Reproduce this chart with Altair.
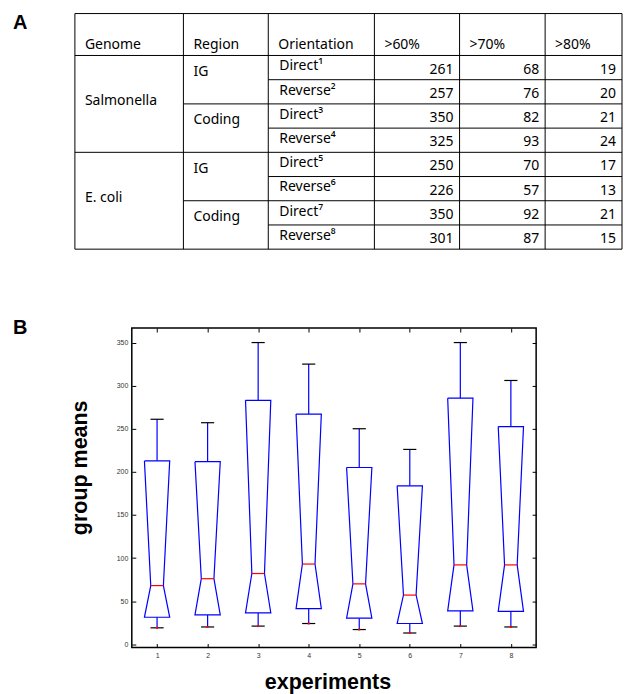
import altair as alt
import pandas as pd

# ---------------- data ----------------
genomes = ["Salmonella", "E. coli"]
regions = ["IG", "Coding"]
orientations = ["Direct", "Reverse"]
superscripts = ["¹", "²", "³", "⁴", "⁵", "⁶", "⁷", "⁸"]
headers = ["Genome", "Region", "Orientation", ">60%", ">70%", ">80%"]
pct60 = [261, 257, 350, 325, 250, 226, 350, 301]
pct70 = [68, 76, 82, 93, 70, 57, 92, 87]
pct80 = [19, 20, 21, 24, 17, 13, 21, 15]

experiments = [1, 2, 3, 4, 5, 6, 7, 8]
group_high = [261, 257, 350, 325, 250, 226, 350, 306]
group_mid = [68, 76, 82, 93, 70, 57, 92, 92]
group_low = [19, 20, 21, 24, 17, 13, 21, 20]
y_ticks = [0, 50, 100, 150, 200, 250, 300, 350]

# ---------------- layout constants ----------------
COL = [0, 108.7, 193.7, 300, 385.3, 471, 548]   # table column edges (px from table left)
HEAD = 1.732                                     # header height in row units
TABLE_W, TABLE_H = 491, 236
PLOT_W, PLOT_H = 405, 320
BOX_HW, NOTCH_HW, CAP_HW = 0.25, 0.125, 0.13
TXT_FONT = "Noto Sans"
AX_FONT = "Liberation Sans"
TITLE_SIZE = 21.5

# ---------------- table (panel A) ----------------
xs_t = alt.Scale(domain=[57, 548], nice=False, zero=False)
ys_t = alt.Scale(domain=[8, -HEAD], nice=False, zero=False)

h_rules = []
for r in [-HEAD, 0, 4, 8]:
    h_rules.append({"x": COL[0], "x2": COL[-1], "row": r})
for r in [2, 6]:
    h_rules.append({"x": COL[1], "x2": COL[-1], "row": r})
for r in [1, 3, 5, 7]:
    h_rules.append({"x": COL[2], "x2": COL[-1], "row": r})
h_df = pd.DataFrame(h_rules)
v_df = pd.DataFrame({"x": COL, "row": [-HEAD] * len(COL), "row2": [8] * len(COL)})

left_txt = []
for c, h in enumerate(headers):
    left_txt.append({"x": COL[c] + 10, "row": -0.45, "t": h})
for g, name in enumerate(genomes):
    left_txt.append({"x": COL[0] + 10, "row": 4 * g + 2 - 0.12, "t": name})
for k in range(4):
    left_txt.append({"x": COL[1] + 10, "row": 2 * k + 0.68, "t": regions[k % 2]})
for r in range(8):
    left_txt.append({"x": COL[2] + 11, "row": r + 0.45,
                     "t": orientations[r % 2] + superscripts[r]})
left_df = pd.DataFrame(left_txt)

right_txt = []
for r in range(8):
    for c, vals in enumerate([pct60, pct70, pct80]):
        right_txt.append({"x": COL[4 + c] - 6, "row": r + 0.58, "t": str(vals[r])})
right_df = pd.DataFrame(right_txt)

hr = alt.Chart(h_df).mark_rule(color="black", strokeWidth=1).encode(
    x=alt.X("x:Q", scale=xs_t, axis=None), x2="x2:Q",
    y=alt.Y("row:Q", scale=ys_t, axis=None))
vr = alt.Chart(v_df).mark_rule(color="black", strokeWidth=1).encode(
    x=alt.X("x:Q", scale=xs_t, axis=None),
    y=alt.Y("row:Q", scale=ys_t, axis=None), y2="row2:Q")
lt = alt.Chart(left_df).mark_text(font=TXT_FONT, fontSize=14, align="left",
                                  baseline="middle", color="black").encode(
    x=alt.X("x:Q", scale=xs_t, axis=None),
    y=alt.Y("row:Q", scale=ys_t, axis=None), text="t:N")
rt = alt.Chart(right_df).mark_text(font=TXT_FONT, fontSize=14, align="right",
                                   baseline="middle", color="black").encode(
    x=alt.X("x:Q", scale=xs_t, axis=None),
    y=alt.Y("row:Q", scale=ys_t, axis=None), text="t:N")
label_a = alt.Chart(pd.DataFrame({"t": ["A"]})).mark_text(
    font=AX_FONT, fontSize=20, fontWeight="bold", align="left",
    baseline="alphabetic", color="black").encode(
    x=alt.value(-119), y=alt.value(15.3), text="t:N")

table_chart = alt.layer(hr, vr, lt, rt, label_a).properties(width=TABLE_W, height=TABLE_H)

# ---------------- box plot (panel B) ----------------
rows = []
poly = []
for e, lo, md, hi in zip(experiments, group_low, group_mid, group_high):
    q1 = lo + 0.25 * (md - lo)
    q3 = md + 0.75 * (hi - md)
    rows.append({"exp": e, "lo": lo, "med": md, "hi": hi, "q1": q1, "q3": q3,
                 "cl": e - CAP_HW, "cr": e + CAP_HW,
                 "nl": e - NOTCH_HW, "nr": e + NOTCH_HW})
    pts = [(e - BOX_HW, q3), (e + BOX_HW, q3), (e + NOTCH_HW, md), (e + BOX_HW, q1),
           (e - BOX_HW, q1), (e - NOTCH_HW, md), (e - BOX_HW, q3)]
    for k, (px, py) in enumerate(pts):
        poly.append({"exp": e, "k": k, "px": px, "py": py})
stats = pd.DataFrame(rows)
poly_df = pd.DataFrame(poly)

xs = alt.Scale(domain=[0.5, 8.5], nice=False, zero=False)
ys = alt.Scale(domain=[-3.85, 366.85], nice=False, zero=False)

common_ax = dict(offset=-4, tickSize=4, tickColor="black", tickWidth=1, domain=False,
                 grid=False, labelFont=AX_FONT, labelFontSize=7, labelColor="#333333")
bottom_axis = alt.Axis(orient="bottom", values=experiments, format="d", labelPadding=4,
                       title="experiments", titleFont=AX_FONT, titleFontSize=TITLE_SIZE,
                       titleFontWeight="bold", titleColor="black", titleX=196, titleY=39.5,
                       titleAlign="center", titleBaseline="middle", **common_ax)
left_axis = alt.Axis(orient="left", values=y_ticks, format="d", labelPadding=4,
                     title="group means", titleFont=AX_FONT, titleFontSize=TITLE_SIZE,
                     titleFontWeight="bold", titleColor="black", titleAngle=270,
                     titleX=-55.5, titleY=139.5, titleAlign="center",
                     titleBaseline="middle", **common_ax)
top_axis = alt.Axis(orient="top", values=experiments, labels=False, title="", **common_ax)
right_axis = alt.Axis(orient="right", values=y_ticks, labels=False, title="", **common_ax)

boxes = alt.Chart(poly_df).mark_line(color="#0000ff", strokeWidth=1.2).encode(
    x=alt.X("px:Q", scale=xs, axis=bottom_axis),
    y=alt.Y("py:Q", scale=ys, axis=left_axis),
    detail="exp:N", order="k:Q")
frame_axes = alt.Chart(stats).mark_rule(color="#0000ff", strokeWidth=1.2).encode(
    x=alt.X("exp:Q", scale=xs, axis=top_axis),
    y=alt.Y("q3:Q", scale=ys, axis=right_axis), y2="hi:Q")
whisk_lo = alt.Chart(stats).mark_rule(color="#0000ff", strokeWidth=1.2).encode(
    x=alt.X("exp:Q", scale=xs, axis=None),
    y=alt.Y("lo:Q", scale=ys, axis=None), y2="q1:Q")
cap_hi = alt.Chart(stats).mark_rule(color="black", strokeWidth=1.2).encode(
    x=alt.X("cl:Q", scale=xs, axis=None), x2="cr:Q",
    y=alt.Y("hi:Q", scale=ys, axis=None))
cap_lo = alt.Chart(stats).mark_rule(color="black", strokeWidth=1.2).encode(
    x=alt.X("cl:Q", scale=xs, axis=None), x2="cr:Q",
    y=alt.Y("lo:Q", scale=ys, axis=None))
medians = alt.Chart(stats).mark_rule(color="#ff0000", strokeWidth=1.2).encode(
    x=alt.X("nl:Q", scale=xs, axis=None), x2="nr:Q",
    y=alt.Y("med:Q", scale=ys, axis=None))
dots = alt.Chart(stats).mark_square(color="#ff0000", size=4, opacity=1).encode(
    x=alt.X("exp:Q", scale=xs, axis=None),
    y=alt.Y("lo:Q", scale=ys, axis=None))
label_b = alt.Chart(pd.DataFrame({"t": ["B"]})).mark_text(
    font=AX_FONT, fontSize=20, fontWeight="bold", align="left",
    baseline="alphabetic", color="black").encode(
    x=alt.value(-119), y=alt.value(6), text="t:N")

box_chart = alt.layer(
    boxes, frame_axes, whisk_lo, cap_hi, cap_lo, medians, dots, label_b
).resolve_axis(x="independent", y="independent").properties(
    width=PLOT_W, height=PLOT_H,
    view=alt.ViewBackground(stroke="black", strokeWidth=1.5))

chart = alt.vconcat(table_chart, box_chart, spacing=79, bounds="flush").properties(
    padding={"left": 4, "top": 3, "right": 0, "bottom": 0}
).configure_view(stroke="transparent")

chart.save("out.html", embed_options={"renderer": "svg", "actions": False})
